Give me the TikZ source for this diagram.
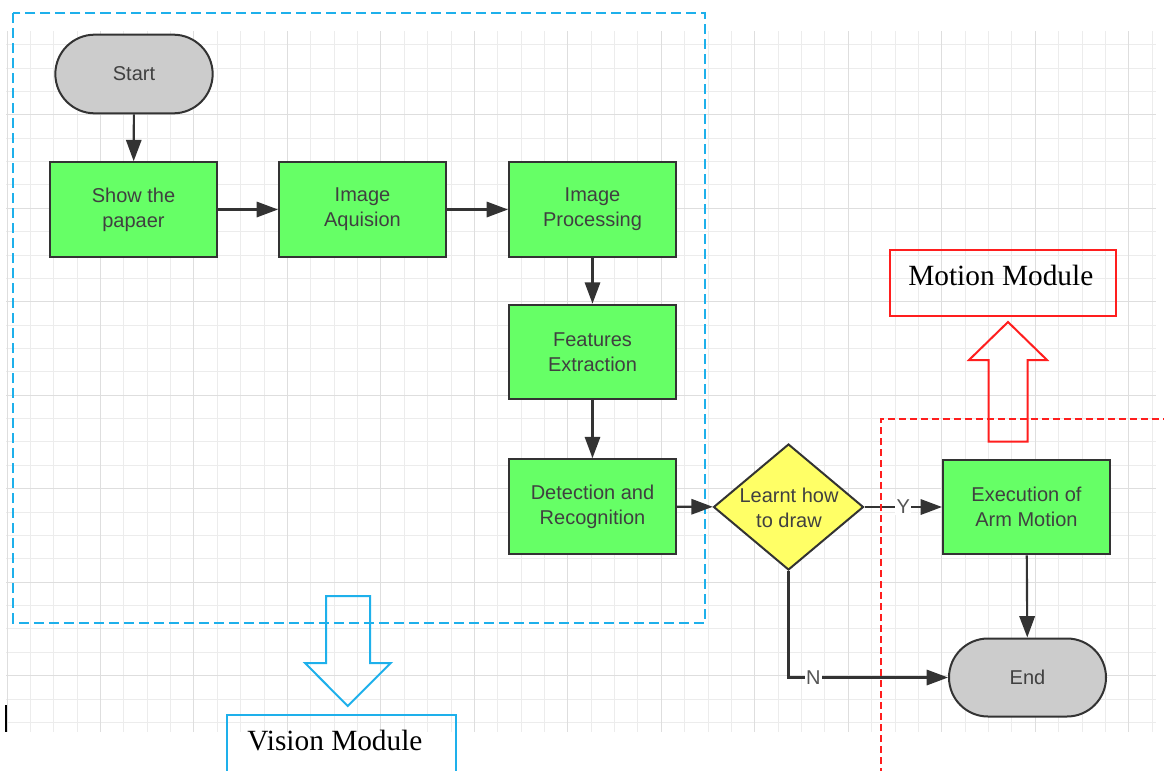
\documentclass[tikz,border=0pt]{standalone}
\usepackage{fontspec}
\setmainfont{Liberation Serif}
\setsansfont{Liberation Sans}
\usetikzlibrary{shapes.geometric,shapes.misc,arrows.meta}
\definecolor{gridminor}{RGB}{236,236,236}
\definecolor{gridmajor}{RGB}{222,222,222}
\definecolor{boxgreen}{RGB}{102,255,102}
\definecolor{termgray}{RGB}{204,204,204}
\definecolor{diayellow}{RGB}{255,255,102}
\definecolor{edgecol}{RGB}{51,51,51}
\definecolor{txtcol}{RGB}{64,64,64}
\definecolor{lblcol}{RGB}{85,85,85}
\definecolor{visblue}{RGB}{30,176,235}
\definecolor{motred}{RGB}{255,30,30}
\tikzset{
  nodefont/.style={font=\sffamily\fontsize{15}{19}\selectfont},
  flowbox/.style={draw=edgecol, line width=1.5pt, fill=boxgreen, minimum width=125.25pt,
    minimum height=71pt, inner sep=0pt, align=center, text=txtcol, nodefont},
  termbox/.style={rounded rectangle, draw=edgecol, line width=1.5pt, fill=termgray,
    minimum width=118pt, minimum height=59pt, inner sep=0pt, text=txtcol, nodefont},
  decision/.style={diamond, draw=edgecol, line width=1.5pt, fill=diayellow,
    minimum width=112.5pt, minimum height=94.5pt, inner sep=0pt, aspect=1.19},
  flow/.style={draw=edgecol, line width=1.6pt, -{Triangle[length=16pt,width=11.5pt]}},
  edgelbl/.style={fill=white, inner sep=1pt, text=lblcol, nodefont},
  minorline/.style={draw=gridminor, line width=0.75pt},
  majorline/.style={draw=gridmajor, line width=0.75pt},
  modtext/.style={font=\fontsize{22}{26}\selectfont, text=black, inner sep=0pt},
}
\begin{document}
\begin{tikzpicture}[x=0.75pt,y=-0.75pt]
\useasboundingbox (0,0) rectangle (1164,771);
\fill[white] (0,0) rectangle (1164,771);
% grid
\begin{scope}
\clip (6,31) rectangle (1156,732);
\foreach \i in {0,...,49}{
  \pgfmathsetmacro\gx{round(6.5+23.37*\i)+0.5}
  \draw[minorline] (\gx,31) -- (\gx,732);
}
\foreach \j in {-3,...,26}{
  \pgfmathsetmacro\gy{round(114.3+23.37*\j)+0.5}
  \draw[minorline] (6,\gy) -- (1156,\gy);
}
\foreach \i in {0,4,...,48}{
  \pgfmathsetmacro\gx{round(6.5+23.37*\i)+0.5}
  \draw[majorline] (\gx,31) -- (\gx,732);
}
\foreach \j in {0,4,...,24}{
  \pgfmathsetmacro\gy{round(114.3+23.37*\j)+0.5}
  \draw[majorline] (6,\gy) -- (1156,\gy);
}
\end{scope}
% vision module region
\draw[visblue, line width=1.5pt, dash pattern=on 7.5pt off 3.75pt] (13.3,13.3) rectangle (705,622.7);
% nodes
\node[termbox] (start) at (134,74) {Start};
\node[flowbox] (show) at (133.5,209.5) {Show the\\papaer};
\node[flowbox] (acq) at (362.5,209.5) {Image\\Aquision};
\node[flowbox] (proc) at (592.5,209.5) {Image\\Processing};
\node[flowbox] (feat) at (592.5,352) {Features\\Extraction};
\node[flowbox] (det) at (592.5,506.5) {Detection and\\Recognition};
\node[decision] (dia) at (788.5,507) {};
\node[text=txtcol, nodefont, align=center, inner sep=0pt] (diatext) at (789,508) {Learnt how\\to draw};
\node[flowbox] (exec) at (1026.5,507) {Execution of\\Arm Motion};
\node[termbox, minimum width=117.75pt, minimum height=58.5pt] (end) at (1027.5,677.5) {End};
% connectors
\draw[flow] (start) -- (show);
\draw[flow] (show) -- (acq);
\draw[flow] (acq) -- (proc);
\draw[flow] (proc) -- (feat);
\draw[flow] (feat) -- (det);
\draw[flow] (det) -- (dia);
\draw[flow] (dia.east) -- node[edgelbl, pos=0.5] (ylbl) {Y} (exec.west);
\draw[flow] (exec) -- (end);
\draw[flow] (dia.south) |- node[edgelbl, pos=0.578] (nlbl) {N} (end.west);
% motion module region
\draw[motred, line width=1.5pt, dash pattern=on 5.25pt off 3pt] (880.7,775) -- (880.7,419.3) -- (1168,419.3);
% hollow arrows
\draw[visblue, line width=1.5pt, line join=miter] (326,596) -- (370,596) -- (370,663) -- (390.7,663) -- (347.7,706) -- (305,663) -- (326,663) -- cycle;
\draw[motred, line width=1.5pt, line join=miter] (988.5,441.5) -- (988.5,360) -- (969,360) -- (1008,322) -- (1047,360) -- (1027.5,360) -- (1027.5,441.5) -- cycle;
% module label boxes
\draw[visblue, line width=1.4pt] (227.3,775) -- (227.3,715) -- (456,715) -- (456,775);
\node[modtext, anchor=base] (vistext) at (335,750) {Vision Module};
\draw[motred, line width=1.4pt] (890,250) rectangle (1115.7,316);
\node[modtext, anchor=base] (mottext) at (1000.8,285) {Motion Module};
% cursor mark
\draw[black, line width=1.2pt] (6,705) -- (6,732);
\end{tikzpicture}
\end{document}
